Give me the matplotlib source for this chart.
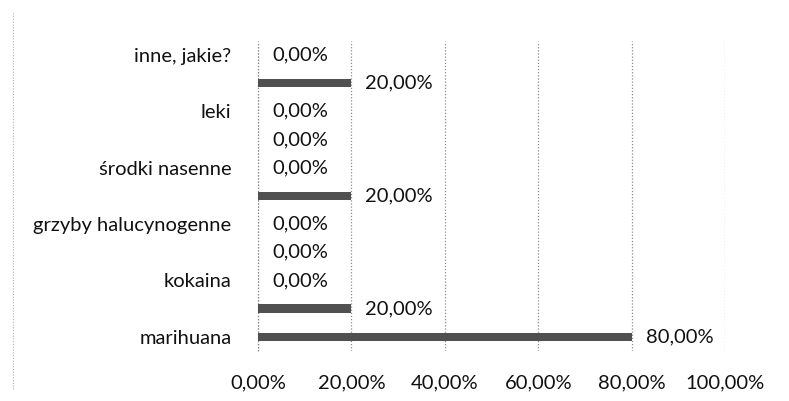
import matplotlib
matplotlib.use("Agg")
import matplotlib.pyplot as plt

# ---------------------------
# Data (bottom to top)
# ---------------------------
categories = ["marihuana", "", "kokaina", "", "grzyby halucynogenne", "",
              "środki nasenne", "", "leki", "", "inne, jakie?"]
values = [0.80, 0.20, 0.00, 0.00, 0.00, 0.20, 0.00, 0.00, 0.00, 0.20, 0.00]
x_ticks = [0.0, 0.2, 0.4, 0.6, 0.8, 1.0]
x_tick_labels = ["0,00%", "20,00%", "40,00%", "60,00%", "80,00%", "100,00%"]

BAR_COLOR = "#505050"
GRID_COLOR = "#8c8c8c"
TEXT_COLOR = "#111111"
FONT = ["Lato", "DejaVu Sans"]
FS = 14.5

plt.rcParams["font.family"] = FONT

fig = plt.figure(figsize=(7.89, 4.01), dpi=100)
ax = fig.add_axes([0.327, 0.125, 0.592, 0.773])

y = list(range(len(categories)))
ax.barh(y, values, height=0.3, color=BAR_COLOR, zorder=3)

for yi, v in zip(y, values):
    label = f"{v * 100:.2f}%".replace(".", ",")
    ax.annotate(label, (v, yi), xytext=(14, 0), textcoords="offset pixels",
                ha="left", va="center", fontsize=FS, color=TEXT_COLOR)

ax.set_xlim(0, 1.0)
ax.set_ylim(-0.5, len(categories) - 0.5)
ax.set_xticks(x_ticks)
ax.set_xticklabels(x_tick_labels)
ax.set_yticks(y)
ax.set_yticklabels(categories)

ax.tick_params(axis="x", length=0, pad=17, labelsize=FS, labelcolor=TEXT_COLOR)
ax.tick_params(axis="y", length=0, pad=19, labelsize=FS, labelcolor=TEXT_COLOR)

ax.xaxis.grid(True, linestyle=(0, (1, 1.5)), color=GRID_COLOR, linewidth=0.9, zorder=0)
ax.axvline(0, linestyle=(0, (1, 1.5)), color=GRID_COLOR, linewidth=0.9, zorder=1,
           clip_on=False)
for s in ax.spines.values():
    s.set_visible(False)

# dotted frame edge on the left, as in the scan
fig.add_artist(plt.Line2D([0.017, 0.017], [0.03, 0.97], transform=fig.transFigure,
                          linestyle=(0, (1, 1.5)), color="#b0b0b0", linewidth=0.8))

fig.savefig("out.png", dpi=100)
